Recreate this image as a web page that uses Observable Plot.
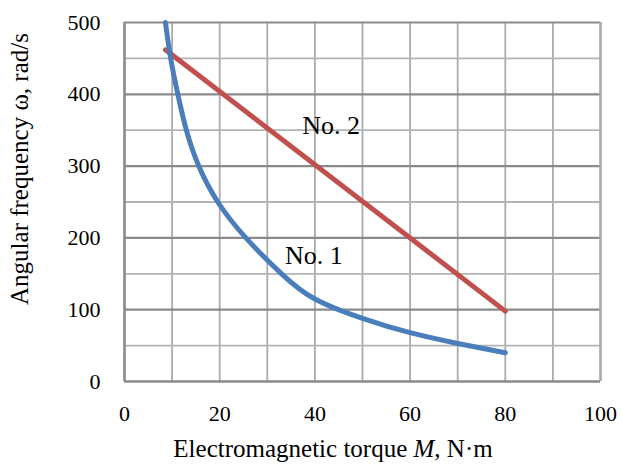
<!DOCTYPE html>
<html>
<head>
<meta charset="utf-8">
<script src="https://cdn.jsdelivr.net/npm/d3@7"></script>
<script src="https://cdn.jsdelivr.net/npm/@observablehq/plot@0.6"></script>
<style>
  html, body { margin: 0; padding: 0; background: #fff; }
</style>
</head>
<body>
<div id="chart"></div>
<script>
// Curve No. 1 (blue)
const m1 = [8.6, 9.7, 11.2, 13.0, 15.6, 19.6, 25.5, 33, 40, 50, 60, 70, 80];
const w1 = [500, 450, 400, 350, 300, 250, 200, 150, 115, 88, 68, 53, 40];
// Curve No. 2 (red)
const m2 = [8.6, 80];
const w2 = [462, 98];
// Labels
const labelText = ["No. 2", "No. 1"];
const labelM = [43.4, 39.8];
const labelW = [357, 175];
// Ticks
const xTicks = [0, 20, 40, 60, 80, 100];
const yTicks = [0, 100, 200, 300, 400, 500];
const xGrid = d3.range(0, 101, 10);
const yMinor = [50, 150, 250, 350, 450];
const yMajor = [100, 200, 300, 400, 500];

const s1 = m1.map((m, i) => ({m, w: w1[i]}));
const s2 = m2.map((m, i) => ({m, w: w2[i]}));
const labels = labelText.map((t, i) => ({t, m: labelM[i], w: labelW[i]}));

const serif = "'Liberation Serif', 'Times New Roman', serif";

const chart = Plot.plot({
  width: 621,
  height: 467,
  marginLeft: 124,
  marginRight: 21,
  marginTop: 22,
  marginBottom: 86,
  style: {fontFamily: serif, fontSize: "22px", color: "#000", background: "#fff"},
  x: {domain: [0, 100], axis: null},
  y: {domain: [0, 500], axis: null},
  marks: [
    Plot.ruleX(xGrid, {stroke: "#ababab", strokeWidth: 1.8}),
    Plot.ruleY(yMinor, {stroke: "#b3b3b3", strokeWidth: 1.8}),
    Plot.ruleY(yMajor, {stroke: "#8a8a8a", strokeWidth: 2.2}),
    Plot.ruleX([100], {stroke: "#ababab", strokeWidth: 2.5}),
    Plot.ruleX([0], {stroke: "#8a8a8a", strokeWidth: 2.5}),
    Plot.ruleY([0], {stroke: "#8a8a8a", strokeWidth: 2.5}),
    Plot.text(xTicks, {x: d => d, y: 0, dy: 32, text: d => String(d), fontSize: 22, fill: "#000", fontFamily: serif}),
    Plot.text(yTicks, {x: 0, y: d => d, dx: -24, textAnchor: "end", text: d => String(d), fontSize: 22, fill: "#000", fontFamily: serif}),
    Plot.line(s2, {x: "m", y: "w", stroke: "#c0504d", strokeWidth: 5, strokeLinecap: "round"}),
    Plot.line(s1, {x: "m", y: "w", stroke: "#4a7ebb", strokeWidth: 5, curve: "natural", strokeLinecap: "round"}),
    Plot.text(labels, {x: "m", y: "w", text: "t", fontSize: 26, fill: "#000", fontFamily: serif})
  ]
});

const svg = d3.select(chart);
svg.append("text")
  .attr("x", 333).attr("y", 457)
  .attr("text-anchor", "middle")
  .attr("font-size", 25)
  .attr("font-family", serif)
  .attr("fill", "#000")
  .call(t => {
    t.append("tspan").text("Electromagnetic torque ");
    t.append("tspan").attr("font-style", "italic").text("M");
    t.append("tspan").text(", N·m");
  });
svg.append("text")
  .attr("transform", "translate(28,169) rotate(-90)")
  .attr("text-anchor", "middle")
  .attr("font-size", 25)
  .attr("font-family", serif)
  .attr("fill", "#000")
  .text("Angular frequency ω, rad/s");

document.getElementById("chart").appendChild(chart);
</script>
</body>
</html>
